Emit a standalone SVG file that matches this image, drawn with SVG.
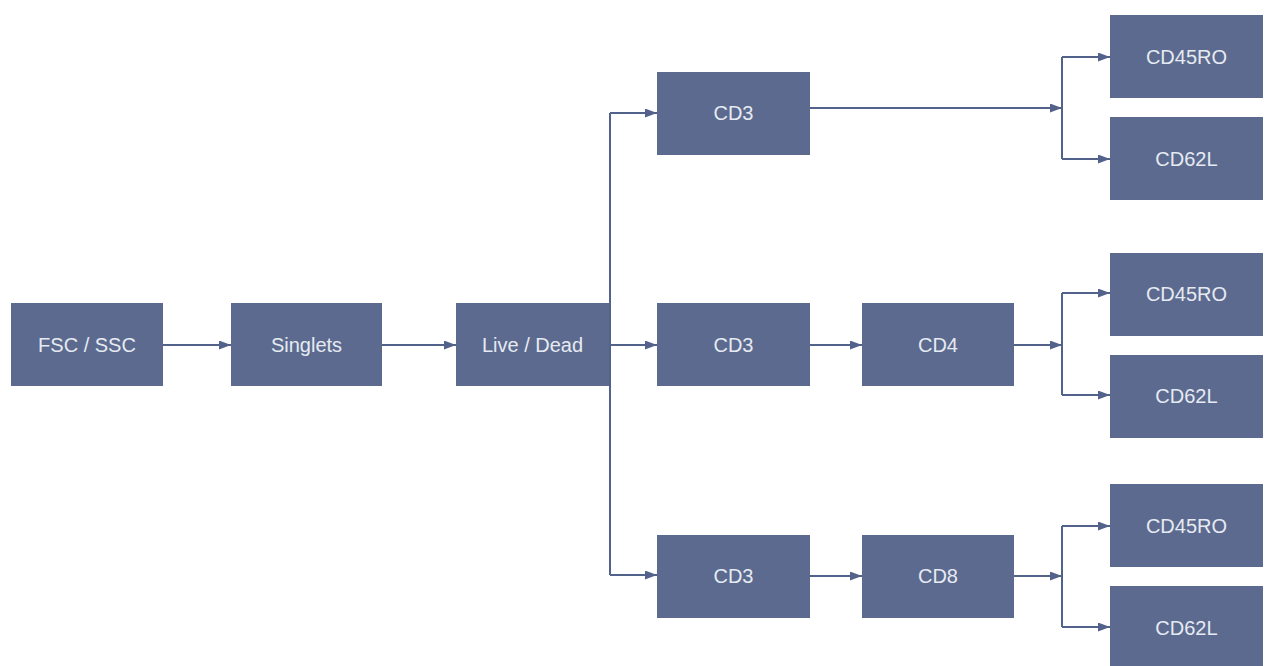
<svg xmlns="http://www.w3.org/2000/svg" width="1266" height="666" viewBox="0 0 1266 666">
<style>
.box{fill:#5b6a8e;}
.lbl{font-family:"Liberation Sans",Arial,sans-serif;font-size:20px;fill:#e6eaf2;text-anchor:middle;dominant-baseline:central;}
.edge{fill:none;stroke:#53628a;stroke-width:2;}
</style>
<defs>
<marker id="arr" viewBox="0 0 12 9" refX="12" refY="4.5" markerWidth="12" markerHeight="9" markerUnits="userSpaceOnUse" orient="auto">
<path d="M0,0 L12,4.5 L0,9 z" fill="#53628a"/>
</marker>
</defs>
<rect width="1266" height="666" fill="#ffffff"/>
<g id="connectors">
<path class="edge" marker-end="url(#arr)" d="M163,345 H231"/>
<path class="edge" marker-end="url(#arr)" d="M382,345 H456"/>
<path class="edge" d="M610,113 V575"/>
<path class="edge" marker-end="url(#arr)" d="M610,113 H657"/>
<path class="edge" marker-end="url(#arr)" d="M609,345 H657"/>
<path class="edge" marker-end="url(#arr)" d="M610,575 H657"/>
<path class="edge" marker-end="url(#arr)" d="M810,345 H862"/>
<path class="edge" marker-end="url(#arr)" d="M810,576 H862"/>
<path class="edge" marker-end="url(#arr)" d="M810,108 H1062"/>
<path class="edge" d="M1062,57 V159"/>
<path class="edge" marker-end="url(#arr)" d="M1062,57 H1110"/>
<path class="edge" marker-end="url(#arr)" d="M1062,159 H1110"/>
<path class="edge" marker-end="url(#arr)" d="M1014,345 H1062"/>
<path class="edge" d="M1062,293 V395"/>
<path class="edge" marker-end="url(#arr)" d="M1062,293 H1110"/>
<path class="edge" marker-end="url(#arr)" d="M1062,395 H1110"/>
<path class="edge" marker-end="url(#arr)" d="M1014,576 H1062"/>
<path class="edge" d="M1062,526 V627"/>
<path class="edge" marker-end="url(#arr)" d="M1062,526 H1110"/>
<path class="edge" marker-end="url(#arr)" d="M1062,627 H1110"/>
</g>
<g id="fsc"><rect class="box" x="11" y="303" width="152" height="83"/><text class="lbl" x="87" y="345">FSC / SSC</text></g>
<g id="singlets"><rect class="box" x="231" y="303" width="151" height="83"/><text class="lbl" x="306.5" y="345">Singlets</text></g>
<g id="livedead"><rect class="box" x="456" y="303" width="153" height="83"/><text class="lbl" x="532.5" y="345">Live / Dead</text></g>
<g id="cd3-top"><rect class="box" x="657" y="72" width="153" height="83"/><text class="lbl" x="733.5" y="113">CD3</text></g>
<g id="cd3-mid"><rect class="box" x="657" y="303" width="153" height="83"/><text class="lbl" x="733.5" y="345">CD3</text></g>
<g id="cd3-bot"><rect class="box" x="657" y="535" width="153" height="83"/><text class="lbl" x="733.5" y="576">CD3</text></g>
<g id="cd4"><rect class="box" x="862" y="303" width="152" height="83"/><text class="lbl" x="938" y="345">CD4</text></g>
<g id="cd8"><rect class="box" x="862" y="535" width="152" height="83"/><text class="lbl" x="938" y="576">CD8</text></g>
<g id="cd45ro-1"><rect class="box" x="1110" y="15" width="153" height="83"/><text class="lbl" x="1186.5" y="57">CD45RO</text></g>
<g id="cd62l-1"><rect class="box" x="1110" y="117" width="153" height="83"/><text class="lbl" x="1186.5" y="159">CD62L</text></g>
<g id="cd45ro-2"><rect class="box" x="1110" y="253" width="153" height="83"/><text class="lbl" x="1186.5" y="294">CD45RO</text></g>
<g id="cd62l-2"><rect class="box" x="1110" y="355" width="153" height="83"/><text class="lbl" x="1186.5" y="396">CD62L</text></g>
<g id="cd45ro-3"><rect class="box" x="1110" y="484" width="153" height="83"/><text class="lbl" x="1186.5" y="526">CD45RO</text></g>
<g id="cd62l-3"><rect class="box" x="1110" y="586" width="153" height="83"/><text class="lbl" x="1186.5" y="628">CD62L</text></g>
</svg>
